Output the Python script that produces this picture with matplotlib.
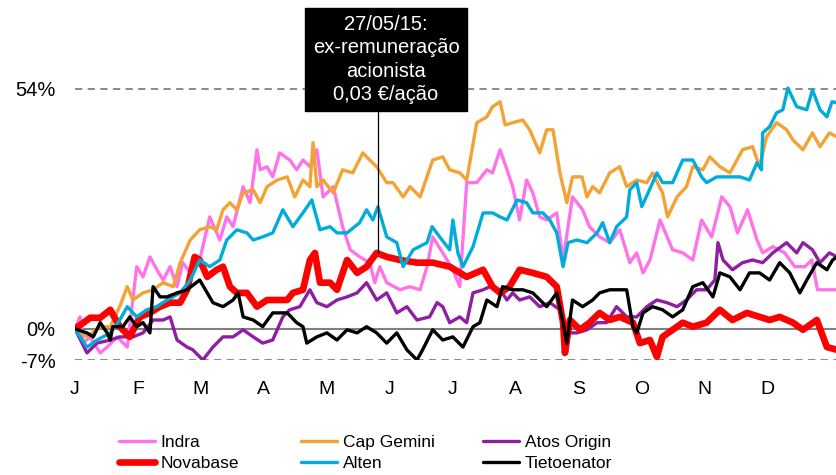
import numpy as np
import matplotlib
matplotlib.use("Agg")
import matplotlib.pyplot as plt

plt.rcParams['font.family'] = ['Liberation Sans', 'DejaVu Sans']

# time axis in months since 1 January (0 = J, 12 = end of December), values in %
months = ['J', 'F', 'M', 'A', 'M', 'J', 'J', 'A', 'S', 'O', 'N', 'D']
ytick_vals = [-7, 0, 54]
ytick_labels = ['-7%', '0%', '54%']

indra_t = [0, 0.08, 0.13, 0.24, 0.40, 0.51, 0.67, 0.83, 0.98, 1.08, 1.19, 1.30, 1.40, 1.51, 1.62,
           1.71, 1.83, 1.98, 2.14, 2.30, 2.41, 2.51, 2.67, 2.78, 2.89, 2.94, 3.05, 3.14, 3.25, 3.41,
           3.52, 3.62, 3.73, 3.84, 3.94, 4.10, 4.25, 4.37, 4.52, 4.68, 4.76, 4.84, 4.95, 5.16, 5.32,
           5.48, 5.59, 5.68, 5.84, 6.00, 6.11, 6.22, 6.38, 6.54, 6.63, 6.75, 6.86, 6.95, 7.06, 7.17,
           7.27, 7.38, 7.49, 7.65, 7.75, 7.90, 8.06, 8.17, 8.33, 8.49, 8.65, 8.81, 8.92, 9.02, 9.13,
           9.29, 9.49, 9.65, 9.81, 9.95, 10.11, 10.27, 10.40, 10.52, 10.68, 10.83, 10.92, 11.08,
           11.27, 11.43, 11.59, 11.70, 11.79, 11.95, 12.10]
indra_v = [0, 2.7, -3.2, -1.8, -5.4, -4.1, -1.8, -4.1, 14.0, 11.7, 16.2, 13.3, 11.0, 14.0, 9.5,
           14.9, 12.6, 15.5, 25.2, 20.0, 25.2, 23.0, 32.0, 28.4, 40.3, 35.8, 36.5, 34.2, 39.6, 38.0,
           35.8, 38.0, 36.5, 40.3, 29.7, 32.0, 23.0, 17.8, 16.2, 14.9, 10.4, 14.0, 10.4, 8.8, 9.5,
           8.8, 14.0, 20.7, 17.1, 13.3, 9.5, 32.9, 32.9, 35.8, 35.1, 40.3, 35.8, 32.0, 24.5, 33.5,
           30.6, 25.2, 24.5, 26.1, 15.5, 29.7, 26.8, 23.0, 20.7, 19.4, 22.3, 14.9, 17.1, 12.6, 15.5,
           24.5, 17.8, 17.1, 15.5, 24.5, 20.7, 29.7, 27.5, 21.6, 26.8, 20.0, 17.1, 18.5,
           17.1, 14.0, 14.0, 15.5, 8.8, 8.8, 8.8]

capgemini_t = [0, 0.19, 0.40, 0.56, 0.71, 0.83, 0.92, 1.08, 1.24, 1.40, 1.56, 1.67, 1.83, 1.98,
               2.14, 2.25, 2.35, 2.46, 2.57, 2.67, 2.83, 2.94, 3.05, 3.21, 3.37, 3.49, 3.62, 3.73,
               3.78, 3.84, 3.94, 4.10, 4.25, 4.41, 4.57, 4.68, 4.79, 4.95, 5.05, 5.21, 5.32, 5.48,
               5.68, 5.84, 5.95, 6.11, 6.22, 6.38, 6.54, 6.63, 6.75, 6.83, 6.95, 7.11, 7.22, 7.38,
               7.49, 7.59, 7.70, 7.81, 7.90, 8.05, 8.13, 8.22, 8.33, 8.49, 8.65, 8.76, 8.92, 9.08,
               9.17, 9.33, 9.41, 9.56, 9.71, 9.81, 9.97, 10.08, 10.24, 10.40, 10.60, 10.76, 10.87,
               10.98, 11.14, 11.30, 11.40, 11.56, 11.71, 11.83, 11.98, 12.10]
capgemini_v = [0, -1.8, 0.5, 0.5, 5.0, 9.5, 6.5, 8.1, 8.8, 10.4, 9.5, 14.9, 20.0, 22.3,
               23.0, 22.3, 26.8, 28.4, 26.8, 30.6, 31.3, 28.4, 32.0, 33.5, 34.2, 29.7, 33.5, 32.0,
               41.9, 32.0, 33.5, 30.6, 35.8, 35.1, 39.6, 38.0, 36.5, 32.9, 32.9, 29.7, 32.0, 29.7,
               38.0, 38.7, 35.8, 35.1, 33.5, 46.4, 47.7, 50.0, 51.1, 45.9, 46.4, 47.0, 44.8, 39.6,
               44.8, 44.8, 35.1, 28.4, 34.2, 34.2, 29.7, 32.0, 30.6, 35.1, 36.5, 32.0, 33.5, 32.9,
               35.1, 30.6, 25.2, 29.7, 32.0, 36.5, 35.8, 38.7, 36.5, 35.1, 40.3, 41.0, 36.5,
               43.2, 46.4, 44.8, 42.5, 40.3, 44.1, 41.0, 44.1, 43.2]

atos_t = [0, 0.19, 0.35, 0.56, 0.71, 0.92, 1.08, 1.24, 1.40, 1.51, 1.62, 1.78, 1.87, 2.03, 2.19,
          2.35, 2.51, 2.67, 2.83, 2.98, 3.14, 3.30, 3.41, 3.57, 3.73, 3.84, 4.00, 4.16, 4.32, 4.48,
          4.63, 4.79, 4.95, 5.11, 5.27, 5.43, 5.63, 5.75, 5.84, 5.95, 6.11, 6.22, 6.32, 6.48, 6.59,
          6.75, 6.86, 6.95, 7.06, 7.22, 7.38, 7.54, 7.70, 7.81, 7.97, 8.13, 8.29, 8.44, 8.60, 8.76,
          8.92, 9.08, 9.24, 9.40, 9.56, 9.71, 9.87, 10.03, 10.16, 10.21, 10.29, 10.44, 10.60,
          10.76, 10.92, 11.08, 11.30, 11.46, 11.56, 11.71, 11.83, 11.98, 12.10]
atos_v = [0, -5.4, -3.2, -2.5, -1.8, -1.8, -0.9, 2.0, 2.0, 2.7, -2.5, -4.1, -4.7, -7.0, -4.1,
          -1.8, -1.8, -0.2, -1.8, -3.2, -2.5, 2.7, 4.3, 5.0, 8.8, 5.9, 5.0, 6.5, 7.2, 8.1,
          10.4, 6.5, 8.1, 3.6, 5.0, 2.0, 2.7, 5.9, 5.0, 1.4, 2.7, 1.4, 8.1, 8.8, 9.5,
          8.8, 6.5, 8.1, 6.5, 7.2, 5.0, 5.9, 4.3, -0.9, -0.9, -0.2, 1.4, 1.4, 5.0, 2.7,
          2.7, 5.0, 6.5, 5.9, 5.0, 6.5, 8.8, 8.8, 11.0, 19.4, 15.5, 13.3, 14.9,
          15.5, 14.9, 17.1, 19.4, 17.1, 19.4, 17.8, 14.9, 17.1, 16.2]

novabase_t = [0, 0.24, 0.40, 0.56, 0.71, 0.87, 1.03, 1.19, 1.35, 1.51, 1.67, 1.78, 1.90, 1.98,
              2.10, 2.25, 2.35, 2.46, 2.57, 2.73, 2.89, 3.05, 3.21, 3.37, 3.46, 3.62, 3.73, 3.81,
              3.89, 4.05, 4.16, 4.32, 4.48, 4.63, 4.79, 4.95, 5.16, 5.43, 5.68, 5.95, 6.22, 6.48,
              6.63, 6.75, 6.90, 7.06, 7.27, 7.49, 7.65, 7.75, 7.78, 7.86, 8.02, 8.17, 8.33, 8.49,
              8.65, 8.86, 8.97, 9.13, 9.24, 9.33, 9.49, 9.65, 9.81, 10.03, 10.24, 10.44, 10.67,
              10.87, 11.03, 11.19, 11.40, 11.56, 11.78, 11.94, 12.10]
novabase_v = [0, 2.5, 2.5, 4.3, 0.5, -1.8, 2.7, 3.6, 5.0, 5.9, 5.9, 8.8, 16.2, 15.5,
              11.7, 13.3, 14.0, 9.5, 8.1, 8.1, 5.0, 6.5, 6.5, 6.5, 8.1, 8.8, 15.5, 17.1,
              10.4, 10.4, 8.8, 15.5, 12.6, 14.0, 17.1, 16.2, 15.5, 14.9, 14.9, 14.0, 11.7, 13.3,
              9.5, 8.1, 9.5, 13.3, 12.6, 11.7, 9.5, 1.4, -5.4, 2.0, -0.2, 1.4, 3.6, 2.0,
              2.7, 1.4, -3.2, -2.5, -6.3, -1.8, -0.2, 1.4, 0.5, 1.4, 4.3, 2.0, 3.6,
              2.7, 2.0, 2.7, 1.4, -0.2, 2.0, -4.1, -4.7]

alten_t = [0, 0.19, 0.35, 0.56, 0.71, 0.83, 0.98, 1.14, 1.30, 1.46, 1.67, 1.83, 1.98, 2.14, 2.30,
           2.41, 2.57, 2.73, 2.83, 2.98, 3.14, 3.30, 3.46, 3.62, 3.76, 3.89, 4.05, 4.16, 4.32, 4.52,
           4.63, 4.73, 4.81, 4.95, 5.11, 5.21, 5.37, 5.59, 5.67, 5.79, 5.95, 6.00, 6.08, 6.16, 6.32,
           6.48, 6.63, 6.75, 6.86, 7.02, 7.17, 7.27, 7.43, 7.54, 7.65, 7.75, 7.83, 7.97, 8.13, 8.29,
           8.38, 8.49, 8.60, 8.76, 8.81, 8.92, 9.00, 9.10, 9.24, 9.33, 9.49, 9.65, 9.81, 9.95,
           10.03, 10.19, 10.40, 10.56, 10.71, 10.83, 10.90, 10.92, 11.03, 11.14, 11.24, 11.32,
           11.46, 11.62, 11.71, 11.83, 11.94, 12.02, 12.10]
alten_v = [0, -4.1, -2.5, -0.9, 2.0, 5.0, 2.7, 4.3, 5.0, 6.5, 8.1, 11.0, 15.5, 14.0, 15.5,
           20.0, 22.3, 21.6, 20.0, 20.7, 21.6, 26.8, 23.0, 26.1, 29.0, 22.3, 23.0, 21.6, 21.6, 23.9,
           26.8, 24.5, 27.5, 20.7, 19.4, 14.0, 17.8, 19.4, 23.0, 20.7, 17.8, 24.5, 17.1, 14.0, 18.5,
           26.1, 26.1, 25.2, 24.5, 29.0, 28.4, 26.1, 26.1, 24.5, 21.6, 14.0, 19.4, 20.0, 19.4, 21.6,
           23.9, 19.4, 23.0, 25.2, 31.3, 32.9, 27.5, 30.6, 35.1, 32.9, 32.9, 38.0, 38.0, 34.2,
           32.9, 34.2, 34.2, 34.2, 33.5, 37.4, 35.8, 44.1, 45.5, 48.6, 49.3, 54.2,
           50.0, 49.3, 53.8, 49.3, 47.7, 51.1, 50.9]

tieto_t = [0, 0.19, 0.29, 0.40, 0.51, 0.56, 0.60, 0.76, 0.87, 0.98, 1.08, 1.19, 1.24, 1.35, 1.46,
           1.62, 1.78, 1.98, 2.10, 2.19, 2.35, 2.51, 2.59, 2.67, 2.83, 2.98, 3.14, 3.37, 3.52, 3.62,
           3.68, 3.84, 4.00, 4.16, 4.32, 4.48, 4.63, 4.79, 4.95, 5.11, 5.27, 5.43, 5.52, 5.68, 5.84,
           6.00, 6.16, 6.32, 6.43, 6.54, 6.70, 6.79, 6.95, 7.11, 7.27, 7.49, 7.65, 7.75, 7.81, 7.90,
           8.06, 8.22, 8.33, 8.49, 8.65, 8.76, 8.86, 8.92, 9.02, 9.17, 9.33, 9.49, 9.65, 9.81, 9.97,
           10.13, 10.24, 10.40, 10.56, 10.71, 10.87, 11.03, 11.19, 11.35, 11.51, 11.62, 11.78,
           11.94, 12.03, 12.10]
tieto_v = [0, -0.9, -1.8, 1.4, -0.9, -2.5, 0.5, 0.5, 2.7, 0.5, 1.4, -0.9, 9.5, 7.2, 7.2,
           8.1, 8.8, 11.0, 8.1, 5.9, 5.0, 6.5, 8.1, 2.7, 2.0, 0.5, 3.6, 3.6, 1.4, 0.5,
           -3.2, -1.8, -0.9, -2.5, -0.2, -0.9, 0.5, -0.9, -3.2, -0.9, -4.7, -7.0, -4.7, -0.2, -2.5,
           -1.8, -4.1, 0.5, 1.4, 6.5, 5.0, 9.5, 8.8, 8.8, 8.1, 5.0, 8.1, 1.4, -3.2, 6.5,
           5.0, 6.5, 8.1, 8.8, 8.8, 8.8, 0.5, -0.9, 3.6, 5.0, 4.3, 2.7, 4.3, 9.5, 10.4,
           7.2, 12.6, 11.7, 8.8, 12.6, 12.6, 11.0, 14.9, 12.6, 8.1, 11.0, 14.9,
           13.3, 15.5, 16.2]

ex_date = 4.81  # 27/05/15
note = '27/05/15:\nex-remuneração\nacionista\n0,03 €/ação'

series = [
    ('Indra', indra_t, indra_v, '#FF73E8', 2.4),
    ('Cap Gemini', capgemini_t, capgemini_v, '#F4A233', 2.4),
    ('Atos Origin', atos_t, atos_v, '#8E1FA3', 2.4),
    ('Novabase', novabase_t, novabase_v, '#FF0000', 4.8),
    ('Alten', alten_t, alten_v, '#00ADDA', 2.4),
    ('Tietoenator', tieto_t, tieto_v, '#000000', 2.4),
]

fig = plt.figure(figsize=(8.37, 4.75), dpi=100)
ax = fig.add_axes([75 / 837, 115 / 475, 762 / 837, 360 / 475])

ax.axhline(54, color='#808080', lw=1.3, ls=(0, (4, 3)), zorder=1)
ax.axhline(-7, color='#808080', lw=1.3, ls=(0, (4, 3)), zorder=1)
ax.axhline(0, color='#808080', lw=1.5, zorder=1)

handles = {}
for name, t, v, col, lw in series:
    ln, = ax.plot(t, v, color=col, lw=lw, solid_joinstyle='round', solid_capstyle='round',
                  label=name, zorder=2)
    handles[name] = ln

# ex-dividend marker
nb_at_ex = np.interp(ex_date, novabase_t, novabase_v)
ax.plot([ex_date, ex_date], [nb_at_ex, 50], color='black', lw=0.9, zorder=3)
ax.text(4.94, 60.6, note, ha='center', va='center', color='white', fontsize=14.5,
        linespacing=1.28, zorder=4,
        bbox=dict(boxstyle='square,pad=0.36', fc='black', ec='black'))

ax.set_xlim(0, 12.1)
ax.set_ylim(-7, 74)
ax.set_xticks(np.arange(12))
ax.set_xticklabels(months, fontsize=14)
ax.set_yticks(ytick_vals)
ax.set_yticklabels(ytick_labels, fontsize=14.5)
ax.tick_params(length=0)
ax.tick_params(axis='x', pad=15)
ax.tick_params(axis='y', pad=14)
for s in ax.spines.values():
    s.set_visible(False)

leg_font = {'family': ['Liberation Sans'], 'size': 12.5}
cols = [('Indra', 'Novabase', 119), ('Cap Gemini', 'Alten', 301), ('Atos Origin', 'Tietoenator', 483)]
for a, b, xpx in cols:
    fig.legend([handles[a], handles[b]], [a, b], loc='upper left',
               bbox_to_anchor=(xpx / 837, 1 - 435 / 475), frameon=False, prop=leg_font,
               handlelength=2.1, handletextpad=0.3, labelspacing=0.35, borderpad=0,
               borderaxespad=0)

fig.savefig('out.png', dpi=100)
